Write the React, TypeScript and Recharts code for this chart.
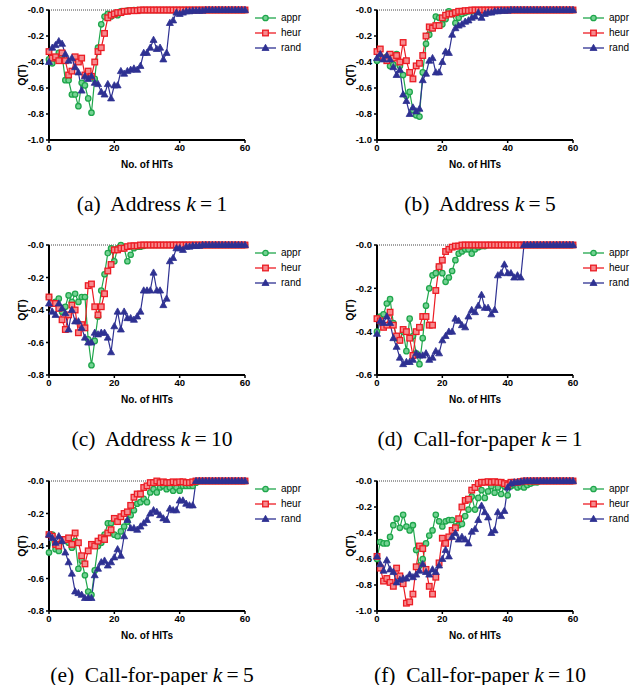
import React from "react";
import { LineChart, Line, XAxis, YAxis, ReferenceLine, Legend } from "recharts";

// x = No. of HITs (0..60), one value per HIT
const hitTicks = [0, 20, 40, 60];

// (a) Address k = 1
const addr1Appr = [
  -0.38, -0.41, -0.37, -0.33, -0.35, -0.54, -0.54, -0.65, -0.65, -0.74,
  -0.56, -0.58, -0.68, -0.79, -0.53, -0.29, -0.11, -0.05, -0.03, -0.05,
  -0.03, -0.04, -0.01, -0.01, -0.005, -0.005, 0, 0, 0, 0,
  0, 0, 0, 0, 0, 0, 0, 0, 0, 0,
  0, 0, 0, 0, 0, 0, 0, 0, 0, 0,
  0, 0, 0, 0, 0, 0, 0, 0, 0, 0,
  0,
];
const addr1Heur = [
  -0.32, -0.37, -0.36, -0.39, -0.33, -0.39, -0.5, -0.47, -0.36, -0.4,
  -0.37, -0.5, -0.47, -0.51, -0.4, -0.32, -0.29, -0.18, -0.06, -0.04,
  -0.03, -0.02, -0.02, -0.01, -0.01, -0.005, -0.005, -0.005, 0, 0,
  0, 0, 0, 0, 0, 0, 0, 0, 0, 0,
  0, 0, 0, 0, 0, 0, 0, 0, 0, 0,
  0, 0, 0, 0, 0, 0, 0, 0, 0, 0,
  0,
];
const addr1Rand = [
  -0.4, -0.29, -0.27, -0.24, -0.26, -0.34, -0.39, -0.37, -0.44, -0.48,
  -0.62, -0.51, -0.53, -0.51, -0.56, -0.57, -0.63, -0.65, -0.57, -0.68,
  -0.58, -0.58, -0.47, -0.49, -0.47, -0.46, -0.45, -0.46, -0.43, -0.33,
  -0.33, -0.29, -0.23, -0.3, -0.29, -0.38, -0.33, -0.1, -0.08, -0.02,
  -0.03, -0.02, -0.01, -0.01, -0.005, -0.005, -0.005, -0.005, 0, 0,
  0, 0, 0, 0, 0, 0, 0, 0, 0, 0,
  0,
];

// (b) Address k = 5
const addr5Appr = [
  -0.39, -0.36, -0.37, -0.36, -0.43, -0.42, -0.34, -0.43, -0.5, -0.66,
  -0.63, -0.77, -0.81, -0.82, -0.48, -0.26, -0.19, -0.14, -0.05, -0.06,
  -0.11, -0.07, -0.01, -0.03, -0.1, -0.06, -0.03, -0.02, -0.01, -0.01,
  -0.005, -0.005, 0, 0, 0, 0, 0, 0, 0, 0,
  0, 0, 0, 0, 0, 0, 0, 0, 0, 0,
  0, 0, 0, 0, 0, 0, 0, 0, 0, 0,
  0,
];
const addr5Heur = [
  -0.32, -0.3, -0.37, -0.39, -0.34, -0.37, -0.35, -0.4, -0.25, -0.39,
  -0.48, -0.53, -0.43, -0.41, -0.35, -0.2, -0.13, -0.14, -0.12, -0.12,
  -0.06, -0.04, -0.03, -0.03, -0.02, -0.01, -0.01, -0.005, -0.005, 0,
  0, 0, 0, 0, 0, 0, 0, 0, 0, 0,
  0, 0, 0, 0, 0, 0, 0, 0, 0, 0,
  0, 0, 0, 0, 0, 0, 0, 0, 0, 0,
  0,
];
const addr5Rand = [
  -0.37, -0.34, -0.38, -0.35, -0.38, -0.44, -0.5, -0.46, -0.65, -0.7,
  -0.8, -0.75, -0.78, -0.76, -0.54, -0.49, -0.39, -0.37, -0.48, -0.48,
  -0.4, -0.32, -0.33, -0.19, -0.14, -0.12, -0.11, -0.09, -0.08, -0.06,
  -0.05, -0.02, -0.06, -0.03, -0.02, -0.02, -0.01, -0.01, -0.005, -0.005,
  -0.005, 0, 0, 0, 0, 0, 0, 0, 0, 0,
  0, 0, 0, 0, 0, 0, 0, 0, 0, 0,
  0,
];

// (c) Address k = 10
const addr10Appr = [
  -0.32, -0.36, -0.35, -0.33, -0.41, -0.38, -0.31, -0.35, -0.3, -0.35,
  -0.32, -0.32, -0.58, -0.74, -0.59, -0.44, -0.28, -0.18, -0.05, -0.02,
  -0.1, -0.02, 0, -0.02, -0.1, -0.06, -0.02, -0.01, -0.01, -0.005,
  0, 0, 0, 0, 0, 0, 0, 0, 0, 0,
  0, 0, 0, 0, 0, 0, 0, 0, 0, 0,
  0, 0, 0, 0, 0, 0, 0, 0, 0, 0,
  0,
];
const addr10Heur = [
  -0.32, -0.36, -0.36, -0.39, -0.46, -0.52, -0.43, -0.37, -0.4, -0.54,
  -0.49, -0.51, -0.25, -0.24, -0.38, -0.43, -0.38, -0.3, -0.16, -0.12,
  -0.03, -0.03, -0.02, -0.02, -0.01, -0.005, -0.005, -0.005, 0, 0,
  0, 0, 0, 0, 0, 0, 0, 0, 0, 0,
  0, 0, 0, 0, 0, 0, 0, 0, 0, 0,
  0, 0, 0, 0, 0, 0, 0, 0, 0, 0,
  0,
];
const addr10Rand = [
  -0.36, -0.41, -0.43, -0.36, -0.39, -0.42, -0.52, -0.4, -0.47, -0.47,
  -0.51, -0.57, -0.6, -0.6, -0.54, -0.55, -0.54, -0.54, -0.57, -0.66,
  -0.5, -0.41, -0.52, -0.41, -0.45, -0.45, -0.46, -0.44, -0.41, -0.28,
  -0.28, -0.28, -0.17, -0.28, -0.28, -0.37, -0.33, -0.1, -0.08, -0.02,
  -0.02, -0.03, -0.01, -0.01, -0.005, -0.005, -0.005, 0, 0, 0,
  0, 0, 0, 0, 0, 0, 0, 0, 0, 0,
  0,
];

// (d) Call-for-paper k = 1
const cfp1Appr = [
  -0.4, -0.33, -0.32, -0.27, -0.25, -0.36, -0.43, -0.44, -0.4, -0.49,
  -0.34, -0.42, -0.5, -0.55, -0.43, -0.28, -0.2, -0.14, -0.13, -0.1,
  -0.13, -0.17, -0.15, -0.12, -0.07, -0.04, -0.03, -0.02, -0.02, -0.04,
  -0.02, -0.01, -0.005, -0.005, 0, 0, 0, 0, 0, 0,
  0, 0, 0, 0, 0, 0, 0, 0, 0, 0,
  0, 0, 0, 0, 0, 0, 0, 0, 0, 0,
  0,
];
const cfp1Heur = [
  -0.34, -0.35, -0.38, -0.37, -0.31, -0.37, -0.42, -0.44, -0.39, -0.4,
  -0.43, -0.51, -0.4, -0.38, -0.33, -0.33, -0.37, -0.37, -0.21, -0.1,
  -0.07, -0.03, -0.02, -0.01, -0.005, -0.005, 0, 0, 0, 0,
  0, 0, 0, 0, 0, 0, 0, 0, 0, 0,
  0, 0, 0, 0, 0, 0, 0, 0, 0, 0,
  0, 0, 0, 0, 0, 0, 0, 0, 0, 0,
  0,
];
const cfp1Rand = [
  -0.41, -0.35, -0.36, -0.33, -0.36, -0.43, -0.47, -0.52, -0.55, -0.54,
  -0.54, -0.53, -0.5, -0.51, -0.51, -0.5, -0.53, -0.52, -0.49, -0.5,
  -0.44, -0.42, -0.4, -0.4, -0.34, -0.35, -0.37, -0.38, -0.33, -0.3,
  -0.31, -0.28, -0.23, -0.29, -0.29, -0.32, -0.3, -0.14, -0.13, -0.09,
  -0.13, -0.13, -0.15, -0.14, -0.15, 0, 0, 0, 0, 0,
  0, 0, 0, 0, 0, 0, 0, 0, 0, 0,
  0,
];

// (e) Call-for-paper k = 5
const cfp5Appr = [
  -0.44, -0.33, -0.42, -0.43, -0.37, -0.36, -0.38, -0.41, -0.37, -0.54,
  -0.49, -0.58, -0.68, -0.7, -0.55, -0.4, -0.38, -0.33, -0.26, -0.26,
  -0.33, -0.34, -0.31, -0.28, -0.25, -0.21, -0.18, -0.14, -0.13, -0.11,
  -0.13, -0.07, -0.05, -0.07, -0.04, -0.03, -0.05, -0.04, -0.06, -0.04,
  -0.06, -0.03, -0.03, -0.03, -0.03, -0.01, 0, 0, 0, 0,
  0, 0, 0, 0, 0, 0, 0, 0, 0, 0,
  0,
];
const cfp5Heur = [
  -0.33, -0.34, -0.39, -0.4, -0.36, -0.36, -0.35, -0.39, -0.32, -0.38,
  -0.46, -0.51, -0.43, -0.39, -0.4, -0.37, -0.35, -0.36, -0.32, -0.3,
  -0.23, -0.25, -0.22, -0.2, -0.19, -0.15, -0.1, -0.08, -0.08, -0.04,
  -0.03, -0.01, -0.01, 0, -0.01, -0.005, -0.01, -0.01, -0.005, -0.01,
  -0.005, -0.005, -0.01, -0.01, -0.005, 0, 0, 0, 0, 0,
  0, 0, 0, 0, 0, 0, 0, 0, 0, 0,
  0,
];
const cfp5Rand = [
  -0.33, -0.35, -0.38, -0.34, -0.37, -0.44, -0.5, -0.57, -0.68, -0.69,
  -0.7, -0.72, -0.72, -0.72, -0.58, -0.54, -0.5, -0.49, -0.52, -0.5,
  -0.47, -0.42, -0.46, -0.34, -0.24, -0.29, -0.29, -0.3, -0.28, -0.26,
  -0.24, -0.2, -0.18, -0.19, -0.21, -0.23, -0.24, -0.17, -0.18, -0.18,
  -0.12, -0.12, -0.14, -0.15, -0.15, 0, 0, 0, 0, 0,
  0, 0, 0, 0, 0, 0, 0, 0, 0, 0,
  0,
];

// (f) Call-for-paper k = 10
const cfp10Appr = [
  -0.6, -0.47, -0.48, -0.48, -0.43, -0.34, -0.29, -0.36, -0.26, -0.35,
  -0.38, -0.34, -0.53, -0.65, -0.6, -0.48, -0.42, -0.38, -0.26, -0.31,
  -0.35, -0.31, -0.3, -0.3, -0.35, -0.34, -0.33, -0.27, -0.22, -0.12,
  -0.22, -0.13, -0.07, -0.13, -0.08, -0.04, -0.09, -0.05, -0.1, -0.04,
  -0.11, -0.04, -0.03, -0.05, -0.04, -0.05, -0.03, -0.02, -0.01, -0.01,
  0, 0, 0, 0, 0, 0, 0, 0, 0, 0,
  0,
];
const cfp10Heur = [
  -0.58, -0.67, -0.77, -0.75, -0.78, -0.81, -0.67, -0.73, -0.79, -0.94,
  -0.93, -0.87, -0.66, -0.5, -0.52, -0.68, -0.81, -0.87, -0.74, -0.63,
  -0.44, -0.48, -0.43, -0.38, -0.36, -0.29, -0.2, -0.15, -0.14, -0.07,
  -0.05, -0.02, -0.01, -0.01, -0.005, -0.01, -0.005, -0.01, -0.01, -0.02,
  -0.03, -0.01, -0.01, -0.01, -0.005, 0, 0, 0, 0, 0,
  0, 0, 0, 0, 0, 0, 0, 0, 0, 0,
  0,
];
const cfp10Rand = [
  -0.58, -0.64, -0.69, -0.61, -0.68, -0.7, -0.78, -0.76, -0.75, -0.75,
  -0.72, -0.74, -0.72, -0.69, -0.64, -0.7, -0.72, -0.68, -0.7, -0.65,
  -0.6, -0.53, -0.58, -0.43, -0.4, -0.45, -0.43, -0.45, -0.48, -0.39,
  -0.37, -0.3, -0.19, -0.24, -0.28, -0.4, -0.38, -0.24, -0.27, -0.23,
  -0.05, -0.02, -0.01, -0.01, -0.005, 0, 0, 0, 0, 0,
  0, 0, 0, 0, 0, 0, 0, 0, 0, 0,
  0,
];

const ticksTo1 = [-1, -0.8, -0.6, -0.4, -0.2, 0];
const ticksTo08 = [-0.8, -0.6, -0.4, -0.2, 0];
const ticksTo06 = [-0.6, -0.4, -0.2, 0];

const series = [
  { key: "appr", color: "#1fa64b", fill: "#74d293", shape: "circle" },
  { key: "heur", color: "#ec1c24", fill: "#f68a8e", shape: "square" },
  { key: "rand", color: "#2e3192", fill: "#2e3192", shape: "triangle" },
];

const panels = [
  { id: "a", name: "Address", k: "1", left: 0, top: 0, appr: addr1Appr, heur: addr1Heur, rand: addr1Rand, ticks: ticksTo1 },
  { id: "b", name: "Address", k: "5", left: 328, top: 0, appr: addr5Appr, heur: addr5Heur, rand: addr5Rand, ticks: ticksTo1 },
  { id: "c", name: "Address", k: "10", left: 0, top: 235, appr: addr10Appr, heur: addr10Heur, rand: addr10Rand, ticks: ticksTo08 },
  { id: "d", name: "Call-for-paper", k: "1", left: 328, top: 235, appr: cfp1Appr, heur: cfp1Heur, rand: cfp1Rand, ticks: ticksTo06 },
  { id: "e", name: "Call-for-paper", k: "5", left: 0, top: 471, appr: cfp5Appr, heur: cfp5Heur, rand: cfp5Rand, ticks: ticksTo08 },
  { id: "f", name: "Call-for-paper", k: "10", left: 328, top: 471, appr: cfp10Appr, heur: cfp10Heur, rand: cfp10Rand, ticks: ticksTo1 },
];

const sans = '"Liberation Sans", Arial, Helvetica, sans-serif';

const marker = (shape, color, fill, cx, cy, key) => {
  if (shape === "circle")
    return <circle key={key} cx={cx} cy={cy} r={2.7} fill={fill} stroke={color} strokeWidth={1.3} />;
  if (shape === "square")
    return <rect key={key} x={cx - 2.8} y={cy - 2.8} width={5.6} height={5.6} fill={fill} stroke={color} strokeWidth={1.3} />;
  return (
    <path key={key} d={`M${cx},${cy - 3.7} L${cx + 3.5},${cy + 2.5} L${cx - 3.5},${cy + 2.5} Z`} fill={fill} stroke={color} strokeWidth={0.8} />
  );
};

const formatQ = (v) => (v === 0 ? "-0.0" : v.toFixed(1));

const tickStyle = { fontSize: 9.5, fontWeight: 700, fill: "#000", fontFamily: sans };

const LegendBox = () => (
  <div style={{ fontFamily: sans, fontSize: 10, color: "#000" }}>
    {series.map((s) => (
      <div key={s.key} style={{ display: "flex", alignItems: "center", height: 15 }}>
        <svg width={24} height={10} style={{ marginRight: 3 }}>
          <line x1={1} y1={5} x2={22} y2={5} stroke={s.color} strokeWidth={1.3} />
          {marker(s.shape, s.color, s.fill, 11.5, 5, s.key)}
        </svg>
        <span>{s.key}</span>
      </div>
    ))}
  </div>
);

const Panel = ({ p }) => {
  const rows = p.appr.map((v, i) => ({ hit: i, appr: v, heur: p.heur[i], rand: p.rand[i] }));
  const yMin = p.ticks[0];
  return (
    <div style={{ position: "absolute", left: p.left, top: p.top, width: 328, height: 230 }}>
      <LineChart width={320} height={175} data={rows} margin={{ top: 10, right: 75, left: 0, bottom: 5 }}>
        <XAxis
          dataKey="hit"
          type="number"
          domain={[0, 60]}
          ticks={hitTicks}
          height={30}
          tickSize={3}
          tickMargin={1}
          axisLine={{ stroke: "#000", strokeWidth: 2 }}
          tickLine={{ stroke: "#000", strokeWidth: 1.5 }}
          tick={tickStyle}
        />
        <YAxis
          type="number"
          domain={[yMin, 0]}
          ticks={p.ticks}
          width={49}
          tickSize={3}
          tickMargin={2}
          tickFormatter={formatQ}
          axisLine={{ stroke: "#000", strokeWidth: 2 }}
          tickLine={{ stroke: "#000", strokeWidth: 1.5 }}
          tick={tickStyle}
        />
        <ReferenceLine y={0} stroke="#444" strokeDasharray="1 1" strokeWidth={1} />
        {series.map((s) => (
          <Line
            key={s.key}
            dataKey={s.key}
            type="linear"
            stroke={s.color}
            strokeWidth={1.2}
            isAnimationActive={false}
            activeDot={false}
            dot={(d) => marker(s.shape, s.color, s.fill, d.cx, d.cy, `${s.key}-${d.index}`)}
          />
        ))}
        <Legend
          layout="vertical"
          align="center"
          verticalAlign="middle"
          wrapperStyle={{ left: 254, top: 10, width: 66, height: 46 }}
          content={() => <LegendBox />}
        />
      </LineChart>
      <div
        style={{
          position: "absolute",
          left: 22,
          top: 75,
          transform: "translate(-50%, -50%) rotate(-90deg)",
          fontFamily: sans,
          fontWeight: 700,
          fontSize: 10.5,
          whiteSpace: "nowrap",
        }}
      >
        Q(T)
      </div>
      <div
        style={{
          position: "absolute",
          left: 147,
          top: 164,
          transform: "translate(-50%, -50%)",
          fontFamily: sans,
          fontWeight: 700,
          fontSize: 10,
          whiteSpace: "nowrap",
        }}
      >
        No. of HITs
      </div>
      <div
        style={{
          position: "absolute",
          left: 152,
          top: 204,
          transform: "translate(-50%, -50%)",
          fontFamily: '"Liberation Serif", "Times New Roman", serif',
          fontSize: 21.5,
          whiteSpace: "nowrap",
        }}
      >
        ({p.id})&nbsp; {p.name} <i>k</i>&thinsp;=&thinsp;{p.k}
      </div>
    </div>
  );
};

export default function App() {
  return (
    <div style={{ position: "absolute", left: 0, top: 0, width: 642, height: 685, background: "#fff" }}>
      {panels.map((p) => (
        <Panel key={p.id} p={p} />
      ))}
    </div>
  );
}
